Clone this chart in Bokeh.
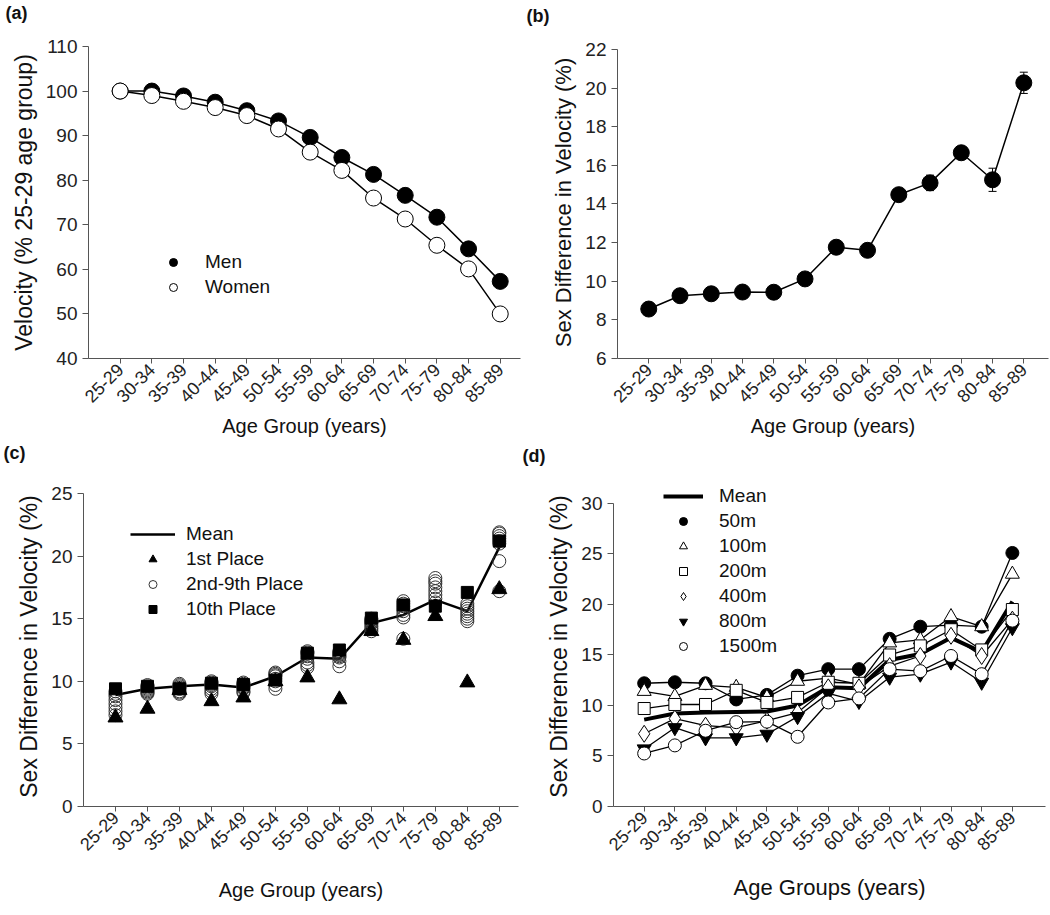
from math import pi
from bokeh.plotting import figure
from bokeh.models import (Range1d, FixedTicker, Legend, LegendItem, Title,
                          Whisker, ColumnDataSource, TeeHead)
from bokeh.layouts import column, row
from bokeh.embed import file_html
from bokeh.resources import INLINE

FONT = "Liberation Sans"

ages = ["25-29", "30-34", "35-39", "40-44", "45-49", "50-54", "55-59",
        "60-64", "65-69", "70-74", "75-79", "80-84", "85-89"]
xi = list(range(len(ages)))

# (a) velocity relative to 25-29 age group
men = [100.0, 100.0, 98.9, 97.5, 95.6, 93.3, 89.6, 85.1, 81.3, 76.6, 71.7, 64.6, 57.3]
men_err = [0.0, 0.2, 0.2, 0.2, 0.2, 0.2, 0.3, 0.3, 0.3, 0.4, 0.4, 0.5, 1.2]
women = [100.0, 99.0, 97.7, 96.3, 94.5, 91.5, 86.3, 82.2, 76.0, 71.3, 65.4, 60.1, 50.0]

# (b) sex difference in velocity
sexdiff = [8.56, 9.25, 9.35, 9.44, 9.43, 10.12, 11.76, 11.6, 14.48, 15.09, 16.65, 15.25, 20.27]
sexdiff_err = [0.1, 0.1, 0.1, 0.1, 0.1, 0.15, 0.2, 0.3, 0.15, 0.4, 0.2, 0.6, 0.55]

# (c) by place
c_mean = [8.9, 9.4, 9.6, 9.75, 9.5, 10.4, 11.9, 11.8, 14.65, 15.3, 16.5, 15.6, 20.7]
c_first = [7.1, 7.8, 9.3, 8.4, 8.7, 10.0, 10.3, 8.55, 14.0, 13.3, 15.2, 9.9, 17.35]
c_tenth = [9.4, 9.6, 9.4, 9.85, 9.75, 10.1, 12.25, 12.5, 15.05, 16.1, 16.0, 17.1, 21.2]
c_2to9 = [
    [7.3, 7.6, 7.9, 8.2, 8.5, 8.8, 9.0, 9.2],
    [9.0, 9.1, 9.2, 9.3, 9.4, 9.5, 9.6, 9.7],
    [9.0, 9.1, 9.2, 9.4, 9.5, 9.6, 9.7, 9.8],
    [9.0, 9.2, 9.4, 9.6, 9.7, 9.8, 9.9, 10.0],
    [9.1, 9.2, 9.4, 9.5, 9.6, 9.7, 9.8, 9.9],
    [9.4, 9.7, 10.0, 10.2, 10.4, 10.5, 10.6, 10.7],
    [11.1, 11.3, 11.5, 11.8, 12.0, 12.2, 12.3, 12.4],
    [11.2, 11.6, 11.9, 12.0, 12.1, 12.2, 12.3, 12.4],
    [14.0, 14.2, 14.4, 14.6, 14.7, 14.8, 14.9, 15.0],
    [13.4, 15.1, 15.3, 15.6, 15.8, 16.0, 16.2, 16.4],
    [16.3, 16.6, 16.9, 17.2, 17.5, 17.8, 18.0, 18.25],
    [14.8, 15.0, 15.2, 15.4, 15.6, 15.8, 16.0, 16.2],
    [17.2, 19.6, 21.0, 21.2, 21.4, 21.6, 21.8, 21.9],
]

# (d) by distance
d_mean = [8.6, 9.2, 9.3, 9.35, 9.4, 10.0, 11.8, 11.7, 14.5, 15.1, 16.7, 15.3, 20.3]
d50 = [12.2, 12.3, 12.2, 10.6, 11.05, 12.95, 13.6, 13.6, 16.6, 17.8, 17.95, 17.8, 25.1]
d100 = [11.4, 10.9, 12.0, 11.8, 10.8, 12.4, 12.7, 12.1, 16.2, 16.5, 18.8, 17.8, 23.0]
d200 = [9.7, 10.1, 10.1, 11.5, 10.3, 10.8, 12.3, 12.2, 15.0, 15.9, 17.5, 15.5, 19.5]
d400 = [7.2, 8.7, 8.0, 7.8, 8.5, 9.3, 11.8, 11.8, 13.9, 14.9, 16.9, 14.9, 18.5]
d800 = [5.7, 7.8, 6.8, 6.8, 7.15, 8.9, 11.2, 10.4, 12.8, 13.1, 14.3, 12.3, 17.7]
d1500 = [5.25, 6.05, 7.5, 8.35, 8.4, 6.9, 10.3, 10.7, 13.6, 13.4, 14.9, 13.1, 18.4]

AXIS_COLOR = "#555555"


def make_fig(width, height, xhi, ylo, yhi, ytop, yticks, ylabel, xlabel,
             ml, mr, mt, mb, ysize="22px", xsize="20px"):
    p = figure(width=width, height=height,
               x_range=Range1d(-1, xhi), y_range=Range1d(ylo, ytop),
               output_backend="svg", toolbar_location=None,
               min_border_left=ml, min_border_right=mr,
               min_border_top=mt, min_border_bottom=mb)
    p.outline_line_color = None
    p.grid.visible = False
    p.background_fill_color = "white"
    p.yaxis.ticker = FixedTicker(ticks=yticks)
    p.yaxis.bounds = (ylo, yhi)
    p.xaxis.ticker = FixedTicker(ticks=xi)
    p.xaxis.major_label_overrides = {i: a for i, a in zip(xi, ages)}
    for ax in (p.xaxis[0], p.yaxis[0]):
        ax.axis_line_color = AXIS_COLOR
        ax.major_tick_line_color = AXIS_COLOR
        ax.minor_tick_line_color = None
        ax.major_tick_in = 0
        ax.major_label_text_font = FONT
        ax.major_label_text_color = "#222222"
        ax.axis_label_text_font = FONT
        ax.axis_label_text_font_style = "normal"
        ax.axis_label_text_color = "#111111"
    p.yaxis.major_label_text_font_size = "19px"
    p.xaxis.major_label_text_font_size = "18px"
    p.yaxis.major_tick_out = 6
    p.xaxis.major_tick_out = 5
    p.yaxis.axis_label = ylabel
    p.yaxis.axis_label_text_font_size = ysize
    p.yaxis.axis_label_standoff = 6
    p.xaxis.axis_label = xlabel
    p.xaxis.axis_label_text_font_size = xsize
    p.xaxis.axis_label_standoff = 4
    p.xaxis.major_label_orientation = pi / 4
    p.xaxis.major_label_standoff = 3
    return p


def panel_label(p, text, offset, line_h):
    # a blank second line lifts the panel letter away from the frame
    p.add_layout(Title(text=text + "\n\u00a0", align="left", offset=offset, standoff=0,
                       vertical_align="bottom", text_line_height=line_h,
                       text_font=FONT, text_font_size="18px", text_font_style="bold",
                       text_color="#111111"), "above")


def make_legend(items, loc, glyph_w, standoff, spacing, font_size="19px"):
    return Legend(items=items, location=loc, border_line_color=None,
                  background_fill_alpha=0, padding=0, margin=0, spacing=spacing,
                  label_standoff=standoff, glyph_width=glyph_w, glyph_height=20,
                  label_height=20, label_text_font=FONT,
                  label_text_font_size=font_size, label_text_color="#111111")


def whisker(p, vals, errs):
    src = ColumnDataSource(dict(x=xi,
                                up=[m + e for m, e in zip(vals, errs)],
                                lo=[m - e for m, e in zip(vals, errs)]))
    p.add_layout(Whisker(source=src, base="x", upper="up", lower="lo",
                         line_color="black", line_width=1,
                         upper_head=TeeHead(size=8, line_color="black"),
                         lower_head=TeeHead(size=8, line_color="black")))


# ---------- (a) ----------
pa = make_fig(522, 440, 12.64, 40, 110, 110, list(range(40, 111, 10)),
              "Velocity (% 25-29 age group)", "Age Group (years)", 88, 2, 46, 82,
              ysize="23px")
whisker(pa, men, men_err)
pa.line(xi, men, line_color="black", line_width=1.5)
r_men = pa.scatter(xi, men, marker="circle", size=16, fill_color="black", line_color="black")
pa.line(xi, women, line_color="black", line_width=1.5)
r_women = pa.scatter(xi, women, marker="circle", size=16, fill_color="white",
                     line_color="black", line_width=1)
pa.add_layout(make_legend([LegendItem(label="Men", renderers=[r_men]),
                           LegendItem(label="Women", renderers=[r_women])],
                          (75, 60), 20, 22, 3))
panel_label(pa, "(a)", -83, 1.16)

# ---------- (b) ----------
pb = make_fig(528, 440, 12.79, 6, 22, 22.15, list(range(6, 23, 2)),
              "Sex Difference in Velocity (%)", "Age Group (years)", 95, 2, 46, 79)
whisker(pb, sexdiff, sexdiff_err)
pb.line(xi, sexdiff, line_color="black", line_width=1.5)
pb.scatter(xi, sexdiff, marker="circle", size=16, fill_color="black", line_color="black")
panel_label(pb, "(b)", -91, 1.01)

# ---------- (c) ----------
pc = make_fig(520, 475, 12.6, 0, 25, 25.56, list(range(0, 26, 5)),
              "Sex Difference in Velocity (%)", "Age Group (years)", 83, 2, 46, 109,
              ysize="23px")
pc.xaxis.axis_label_standoff = 20
cx, cy = [], []
for i, vals in zip(xi, c_2to9):
    for v in vals:
        cx.append(i)
        cy.append(v)
r_cmean = pc.line(xi, c_mean, line_color="black", line_width=2.5)
r_c2 = pc.scatter(cx, cy, marker="circle", size=13, fill_alpha=0,
                  line_color="#333333", line_width=1)
r_c10 = pc.scatter(xi, c_tenth, marker="square", size=12, fill_color="black",
                   line_color="black")
r_c1 = pc.scatter(xi, c_first, marker="triangle", size=15, fill_color="black",
                  line_color="black")
pc.add_layout(make_legend([LegendItem(label="Mean", renderers=[r_cmean]),
                           LegendItem(label="1st Place", renderers=[r_c1]),
                           LegendItem(label="2nd-9th Place", renderers=[r_c2]),
                           LegendItem(label="10th Place", renderers=[r_c10])],
                          (47, 186), 45, 11, 3))
panel_label(pc, "(c)", -80, 1.16)

# ---------- (d) ----------
pd_ = make_fig(530, 475, 13.08, 0, 30, 31.68, list(range(0, 31, 5)),
               "Sex Difference in Velocity (%)", "Age Groups (years)", 93, 5, 46, 109,
               ysize="23px", xsize="22px")
pd_.xaxis.axis_label_standoff = 16
series = [
    ("50m", d50, "circle", "black", 13),
    ("100m", d100, "triangle", "white", 14),
    ("200m", d200, "square", "white", 12),
    ("400m", d400, "diamond", "white", 17),
    ("800m", d800, "inverted_triangle", "black", 14),
    ("1500m", d1500, "circle", "white", 13),
]
items = []
r_dmean = pd_.line(xi, d_mean, line_color="black", line_width=4)
items.append(LegendItem(label="Mean", renderers=[r_dmean]))
for name, vals, mk, fill, sz in series:
    pd_.line(xi, vals, line_color="black", line_width=1.3)
for name, vals, mk, fill, sz in series:
    r = pd_.scatter(xi, vals, marker=mk, size=sz, fill_color=fill,
                    line_color="black", line_width=1)
    items.append(LegendItem(label=name, renderers=[r]))
pd_.add_layout(make_legend(items, (50, 149), 40, 16, 3))
panel_label(pd_, "(d)", -91, 1.01)

layout = column(row(pa, pb), row(pc, pd_))
open("out.html", "w").write(file_html(layout, INLINE))
